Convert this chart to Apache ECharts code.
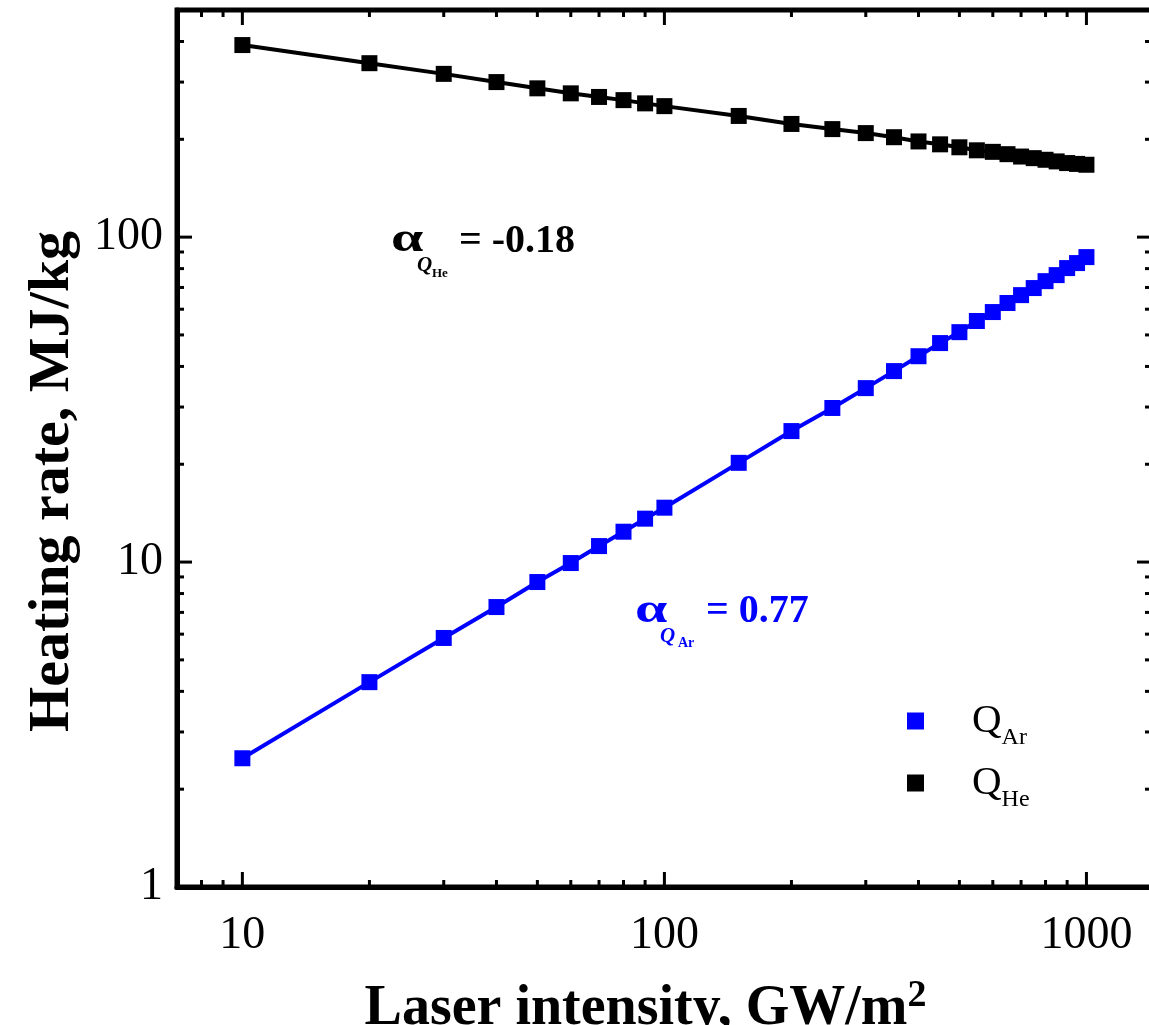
<!DOCTYPE html>
<html>
<head>
<meta charset="utf-8">
<title>Heating rate vs laser intensity</title>
<script src="https://cdn.jsdelivr.net/npm/echarts@6/dist/echarts.min.js"></script>
<style>
  html, body { margin: 0; padding: 0; background: #fff; }
  #chart { width: 1149px; height: 1025px; }
</style>
</head>
<body>
<div id="chart"></div>
<script>
// Laser intensity (GW/m^2) at which the heating rate was computed
const intensity = [10, 20, 30, 40, 50, 60, 70, 80, 90, 100, 150, 200, 250, 300, 350, 400,
  450, 500, 550, 600, 650, 700, 750, 800, 850, 900, 950, 1000];
// Heating rate (MJ/kg) for argon
const heatAr = [2.49, 4.27, 5.84, 7.27, 8.68, 9.93, 11.2, 12.4, 13.6, 14.7, 20.2, 25.3, 29.8, 34.3,
  38.7, 43.0, 47.2, 51.0, 55.2, 58.8, 62.7, 66.3, 69.7, 73.2, 76.4, 80.3, 83.2, 86.8];
// Heating rate (MJ/kg) for helium
const heatHe = [390, 343, 318, 300, 287, 277, 270, 264, 258, 253, 236, 223, 215, 209,
  203, 197, 193, 189, 185, 183, 180, 177, 175, 173, 171, 169, 168, 167];
// Series keys (gas names) shown as subscripts in the legend
const gasNames = ['Ar', 'He'];
// Power-law exponents of the fitted lines
const alphaAr = '0.77';
const alphaHe = '-0.18';
// Tick positions on the log axes
const xMajorTicks = [10, 100, 1000];
const xMinorTicks = [8, 9, 20, 30, 40, 50, 60, 70, 80, 90, 200, 300, 400, 500, 600, 700, 800, 900];
const yMajorTicks = [1, 10, 100];
const yMinorTicks = [2, 3, 4, 5, 6, 7, 8, 9, 20, 30, 40, 50, 60, 70, 80, 90, 200, 300, 400];

const SERIF = "'Liberation Serif', 'Times New Roman', serif";
const BLUE = '#0000ff';
const MAJOR_LEN = 15, MINOR_LEN = 7;

const chart = echarts.init(document.getElementById('chart'), null, { renderer: 'canvas' });

function isDecade(v) {
  const e = Math.log10(v);
  return Math.abs(e - Math.round(e)) < 1e-6;
}
function decadeLabel(v) {
  return isDecade(v) ? String(Math.round(v)) : '';
}

// tick marks drawn inward on all four sides of the frame
const xTickData = xMajorTicks.map(v => [v, 10, MAJOR_LEN]).concat(xMinorTicks.map(v => [v, 10, MINOR_LEN]));
const yTickData = yMajorTicks.map(v => [100, v, MAJOR_LEN]).concat(yMinorTicks.map(v => [100, v, MINOR_LEN]));

function tickStyle() { return { stroke: '#000', lineWidth: 3 }; }

function renderXTick(params, api) {
  const cs = params.coordSys;
  const px = api.coord([api.value(0), api.value(1)])[0];
  const len = api.value(2);
  const bottom = cs.y + cs.height, top = cs.y;
  return {
    type: 'group',
    children: [
      { type: 'line', shape: { x1: px, y1: bottom, x2: px, y2: bottom - len }, style: tickStyle() },
      { type: 'line', shape: { x1: px, y1: top, x2: px, y2: top + len }, style: tickStyle() }
    ]
  };
}
function renderYTick(params, api) {
  const cs = params.coordSys;
  const py = api.coord([api.value(0), api.value(1)])[1];
  const len = api.value(2);
  const left = cs.x, right = cs.x + cs.width;
  return {
    type: 'group',
    children: [
      { type: 'line', shape: { x1: left, y1: py, x2: left + len, y2: py }, style: tickStyle() },
      { type: 'line', shape: { x1: right, y1: py, x2: right - len, y2: py }, style: tickStyle() }
    ]
  };
}

function txt(text, x, y, font, fill, scaleX) {
  return {
    type: 'text', x: x, y: y, silent: true, scaleX: scaleX || 1,
    style: { text: text, font: font, fill: fill, textAlign: 'left', textVerticalAlign: 'middle', verticalAlign: 'middle' }
  };
}

const option = {
  animation: false,
  backgroundColor: '#fff',
  grid: {
    left: 177, right: -3, top: 10, bottom: 138,
    outerBoundsMode: 'none', containLabel: false,
    show: true, borderColor: '#000', borderWidth: 5, backgroundColor: 'transparent'
  },
  xAxis: {
    type: 'log', logBase: 10, min: 7, max: 1430,
    axisLine: { show: true, lineStyle: { color: '#000', width: 5 } },
    axisTick: { show: false },
    splitLine: { show: false },
    minorTick: { show: false },
    axisLabel: {
      formatter: decadeLabel, margin: 26,
      fontFamily: SERIF, fontSize: 46, color: '#000'
    },
    name: '{t|Laser intensity, GW/m}{p|2}',
    nameLocation: 'middle', nameGap: 93,
    nameTextStyle: {
      padding: [0, 38, 0, 0],
      rich: {
        t: { fontFamily: SERIF, fontSize: 56, fontWeight: 'bold', color: '#000', lineHeight: 60 },
        p: { fontFamily: SERIF, fontSize: 38, fontWeight: 'bold', color: '#000', lineHeight: 40, padding: [0, 0, 28, 0] }
      }
    }
  },
  yAxis: {
    type: 'log', logBase: 10, min: 1, max: 500,
    axisLine: { show: true, lineStyle: { color: '#000', width: 5 } },
    axisTick: { show: false },
    splitLine: { show: false },
    minorTick: { show: false },
    axisLabel: {
      formatter: decadeLabel, margin: 14,
      fontFamily: SERIF, fontSize: 46, color: '#000'
    },
    name: 'Heating rate, MJ/kg',
    nameLocation: 'middle', nameGap: 93, nameRotate: 90,
    nameTextStyle: {
      fontFamily: SERIF, fontSize: 58, fontWeight: 'bold', color: '#000',
      lineHeight: 60, padding: [0, 66, 0, 0]
    }
  },
  legend: {
    orient: 'vertical', left: 907, top: 692, padding: 0,
    itemWidth: 17, itemHeight: 17, itemGap: 4, icon: 'rect',
    data: gasNames,
    formatter: name => '{q|Q}{s|' + name + '}',
    textStyle: {
      rich: {
        q: { fontFamily: SERIF, fontSize: 41, color: '#000', lineHeight: 44, padding: [0, 0, 0, 43] },
        s: { fontFamily: SERIF, fontSize: 24, color: '#000', lineHeight: 24, padding: [34, 0, 0, 0] }
      }
    }
  },
  series: [
    {
      name: gasNames[0], type: 'line', z: 3,
      data: intensity.map((x, i) => [x, heatAr[i]]),
      symbol: 'rect', symbolSize: 16,
      lineStyle: { color: BLUE, width: 4 },
      itemStyle: { color: BLUE }
    },
    {
      name: gasNames[1], type: 'line', z: 3,
      data: intensity.map((x, i) => [x, heatHe[i]]),
      symbol: 'rect', symbolSize: 16,
      lineStyle: { color: '#000', width: 4 },
      itemStyle: { color: '#000' }
    },
    {
      type: 'custom', name: 'xticks', silent: true, clip: false, z: 5,
      renderItem: renderXTick, data: xTickData, encode: { x: 0, y: 1 }
    },
    {
      type: 'custom', name: 'yticks', silent: true, clip: false, z: 5,
      renderItem: renderYTick, data: yTickData, encode: { x: 0, y: 1 }
    }
  ],
  graphic: [
    // exponent of the helium fit
    txt('α', 391, 241, 'bold 40px ' + SERIF, '#000', 1.45),
    txt('Q', 417, 266, 'italic bold 21px ' + SERIF, '#000'),
    txt('He', 432, 274, 'bold 13px ' + SERIF, '#000'),
    txt('= ' + alphaHe, 459, 242, 'bold 40px ' + SERIF, '#000'),
    // exponent of the argon fit
    txt('α', 635, 612, 'bold 40px ' + SERIF, BLUE, 1.45),
    txt('Q', 660, 637, 'italic bold 21px ' + SERIF, BLUE),
    txt('Ar', 678, 643, 'bold 14px ' + SERIF, BLUE),
    txt('= ' + alphaAr, 706, 612, 'bold 40px ' + SERIF, BLUE)
  ]
};

chart.setOption(option);
</script>
</body>
</html>
